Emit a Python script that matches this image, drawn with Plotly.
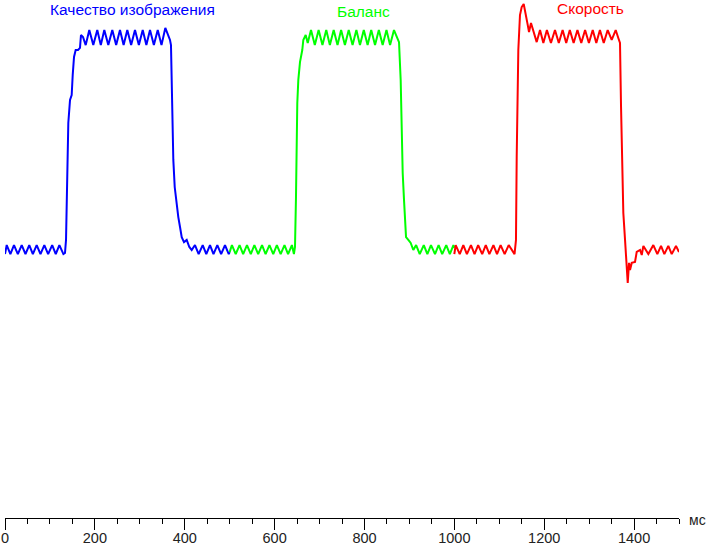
import plotly.graph_objects as go

# Time (ms) and brightness (%) for each mode
t_quality = [0, 3.8, 12, 20, 28.6, 37.2, 45.6, 54, 62, 70.5, 79, 87.5, 96, 105, 113, 121, 130,
             133.5, 135.8, 137.3, 138.7, 140.9, 144.7, 148.4, 150.7, 153.6, 157.3, 162.5, 166.9,
             169.1, 173.6, 179.6, 187.6, 196.5, 205.4, 213.2, 221, 229.9, 238.8, 247.4, 255.9,
             264, 272.2, 280.7, 289.3, 297.9, 306.5, 314.6, 322.7, 331.3, 339.9, 348.3, 356.8,
             367.2, 369.4, 371, 373.2, 374.6, 377.7, 382.1, 385.7, 389.5, 393.3, 398.4, 404.4,
             410.2, 415.5, 422.8, 431, 440, 448, 456.2, 464, 472.5, 481, 489.6, 498, 500]
v_quality = [-1.9, 2.3, -1.9, 2.3, -1.9, 2.3, -1.9, 2.3, -1.9, 2.3, -1.9, 2.3, -1.9, 2.3, -1.9, 2.3, -1.9,
             -1.4, 4.7, 27.9, 47.9, 59.1, 69.8, 72.1, 81.4, 89.8, 93.0, 93.0, 94.0,
             100.0, 99.1, 95.3, 102.3, 95.3, 102.3, 95.3, 102.3, 95.3, 102.3, 95.3, 102.3,
             95.3, 102.3, 95.3, 102.3, 95.3, 102.3, 95.3, 102.3, 95.3, 102.3, 95.3, 103.3,
             97.7, 95.3, 75.8, 54.4, 41.9, 29.3, 20.0, 15.3, 10.7, 6.0, 3.7, 4.7,
             1.4, 0.0, 2.3, -1.9, 2.3, -1.9, 2.3, -1.9, 2.3, -1.9, 2.3, -1.9, -1.0]

t_balance = [500, 505, 513.5, 522, 530, 538.5, 547, 555, 563.5, 572, 580, 588.5, 597, 605, 613.5,
             622, 630, 638.5, 643, 645.4, 647.6, 649.2, 650.5, 652.8, 656.5, 661.6, 663.9, 669.2,
             673.7, 681, 689.5, 698, 706.5, 715, 723, 731.5, 740, 748, 756.5, 765, 773.5, 782,
             790, 798.5, 807, 815, 823.5, 832, 840.5, 849, 857, 865.7, 876.9, 880.6, 882.9, 885.1,
             888, 890.2, 892.5, 897.6, 902.9, 908.7, 915, 923, 932, 940, 948, 957, 965, 973, 982,
             990, 998, 1000]
v_balance = [-1.0, 2.3, -1.9, 2.3, -1.9, 2.3, -1.9, 2.3, -1.9, 2.3, -1.9, 2.3, -1.9, 2.3, -1.9,
             2.3, -1.9, 2.3, -1.9, 1.4, 24.7, 51.2, 68.4, 79.1, 87.4, 93.0, 97.7, 100.0,
             96.3, 102.3, 95.3, 102.3, 95.3, 102.3, 95.3, 102.3, 95.3, 102.3, 95.3, 102.3, 95.3, 102.3,
             95.3, 102.3, 95.3, 102.3, 95.3, 102.3, 95.3, 102.3, 95.3, 102.3, 96.7, 79.1, 54.4, 35.8,
             23.3, 14.0, 6.0, 4.7, 3.3, 0.0, 2.3, -1.9, 2.3, -1.9, 2.3, -1.9, 2.3, -1.9, 2.3,
             -1.9, 2.3, 1.0]

t_speed = [1000, 1003, 1012, 1020, 1028, 1037, 1045, 1053, 1062, 1070, 1078, 1087, 1095, 1103,
           1112, 1121, 1134, 1137.2, 1138.8, 1141, 1142.4, 1146.1, 1149.9, 1154.4, 1158.8, 1163.3,
           1166.2, 1170.6, 1183.3, 1190.7, 1198.1, 1206, 1215, 1224, 1232.5, 1241, 1249, 1257,
           1265.5, 1274, 1282.5, 1291, 1299.5, 1308, 1316, 1324, 1332.5, 1341.3, 1350.2, 1359.1,
           1364.9, 1368.7, 1371, 1373.9, 1376.1, 1379.9, 1383.7, 1385.9, 1388.8, 1391, 1394.8,
           1402.1, 1405.9, 1413.3, 1417.1, 1420.7, 1431.8, 1442.9, 1451.8, 1460, 1467.4, 1476.2,
           1483.8, 1493.3, 1500]
v_speed = [-1.9, 2.3, -1.9, 2.3, -1.9, 2.3, -1.9, 2.3, -1.9, 2.3, -1.9, 2.3, -1.9, 2.3,
           -1.9, 2.3, -1.9, 4.7, 43.3, 74.4, 93.0, 109.3, 113.0, 114.4, 110.2, 104.7,
           101.4, 105.6, 96.7, 102.3, 96.3, 102.3, 96.3, 102.3, 96.3, 102.3, 96.3, 102.3,
           96.3, 102.3, 96.3, 102.3, 96.3, 102.3, 96.3, 102.3, 96.3, 102.3, 97.7, 102.3,
           98.6, 96.3, 66.5, 37.2, 17.2, 4.7, -10.7, -15.3, -6.0, -9.3, -6.0,
           -5.6, -0.9, 0.0, -2.3, 1.9, -1.9, 2.3, -1.9, 1.9, -1.9, 1.9,
           -1.9, 1.9, -0.9]

series_names = ["Качество изображения", "Баланс", "Скорость"]
series_colors = ["#0000FF", "#00FF00", "#FF0000"]
label_x = [283, 797, 1302]
label_y = [0.981, 0.977, 0.983]

x_tick_vals = [0, 200, 400, 600, 800, 1000, 1200, 1400]
x_tick_text = ["0", "200", "400", "600", "800", "1000", "1200", "1400"]

fig = go.Figure()
for t, v, name, col in zip([t_quality, t_balance, t_speed], [v_quality, v_balance, v_speed],
                           series_names, series_colors):
    fig.add_trace(go.Scatter(x=t, y=v, mode="lines", name=name, hoverinfo="skip",
                             line=dict(color=col, width=2), showlegend=False, cliponaxis=False))

for name, col, lx, ly in zip(series_names, series_colors, label_x, label_y):
    fig.add_annotation(x=lx, y=ly, xref="x", yref="paper", text=name, showarrow=False,
                       font=dict(family="Liberation Sans, Arial", size=15.5, color=col),
                       xanchor="center", yanchor="middle")

fig.add_annotation(x=1.027, y=-0.004, xref="paper", yref="paper", text="мс", showarrow=False,
                   font=dict(family="Liberation Sans, Arial", size=14, color="#222222"),
                   xanchor="center", yanchor="middle")

fig.update_layout(
    width=707, height=546,
    margin=dict(l=5, r=28, t=0, b=28, autoexpand=False),
    paper_bgcolor="white", plot_bgcolor="white",
    font=dict(family="Liberation Sans, Arial", size=15, color="#222222"),
    xaxis=dict(range=[0, 1500], tickvals=x_tick_vals, ticktext=x_tick_text, automargin=False,
               ticks="outside", ticklen=11, tickwidth=1, tickcolor="black",
               ticklabelstandoff=-4,
               showline=True, linecolor="black", linewidth=1, showgrid=False, zeroline=False,
               minor=dict(dtick=50, ticks="outside", ticklen=5, tickcolor="black", tickwidth=1,
                          showgrid=False),
               tickfont=dict(size=14.5, color="#222222")),
    yaxis=dict(range=[-124.65, 116.28], visible=False, showgrid=False, zeroline=False,
               automargin=False),
)

fig.write_html("out.html", config={"displayModeBar": False, "staticPlot": True},
               post_script="document.body.style.margin='0';document.body.style.overflow='hidden';")
